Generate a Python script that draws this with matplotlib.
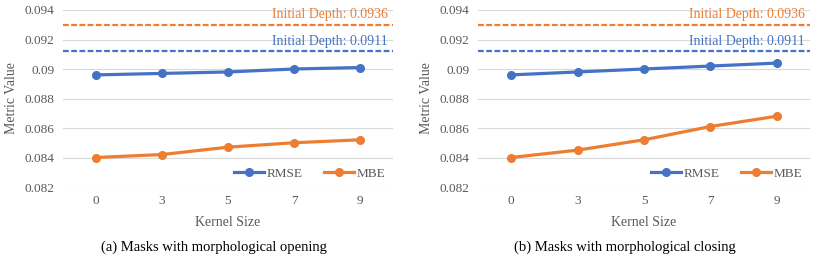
import matplotlib
matplotlib.use("Agg")
from matplotlib import pyplot as plt
from matplotlib.ticker import FuncFormatter

kernel_sizes = ["0", "3", "5", "7", "9"]

rmse_opening = [0.0896, 0.0897, 0.0898, 0.0900, 0.0901]
mbe_opening = [0.0840, 0.0842, 0.0847, 0.0850, 0.0852]

rmse_closing = [0.0896, 0.0898, 0.0900, 0.0902, 0.0904]
mbe_closing = [0.0840, 0.0845, 0.0852, 0.0861, 0.0868]

# dashed reference lines (drawn position) and their labels
init_rmse_line = 0.0912
init_mbe_line = 0.0930
init_rmse_label = "Initial Depth: 0.0911"
init_mbe_label = "Initial Depth: 0.0936"

captions = ["(a) Masks with morphological opening", "(b) Masks with morphological closing"]

BLUE = "#4472C4"
ORANGE = "#ED7D31"
GRAY = "#595959"

plt.rcParams["font.family"] = ["Liberation Serif", "DejaVu Serif"]

fig = plt.figure(figsize=(8.31, 2.57), dpi=100)


def draw_panel(rect, rmse, mbe):
    ax = fig.add_axes(rect)
    x = range(len(kernel_sizes))
    ax.axhline(init_mbe_line, color=ORANGE, ls=(0, (2.6, 1.1)), lw=1.6, zorder=2)
    ax.axhline(init_rmse_line, color=BLUE, ls=(0, (2.6, 1.1)), lw=1.6, zorder=2)
    ax.text(0.985, init_mbe_line + 0.00025, init_mbe_label, transform=ax.get_yaxis_transform(),
            ha="right", va="bottom", color=ORANGE, fontsize=10)
    ax.text(0.985, init_rmse_line + 0.00025, init_rmse_label, transform=ax.get_yaxis_transform(),
            ha="right", va="bottom", color=BLUE, fontsize=10)
    ax.plot(x, rmse, color=BLUE, lw=2.3, marker="o", ms=5.5, label="RMSE", zorder=3)
    ax.plot(x, mbe, color=ORANGE, lw=2.3, marker="o", ms=5.5, label="MBE", zorder=3)
    ax.set_xlim(-0.5, len(kernel_sizes) - 0.5)
    ax.set_ylim(0.082, 0.094)
    ax.set_yticks([0.082, 0.084, 0.086, 0.088, 0.090, 0.092, 0.094])
    ax.yaxis.set_major_formatter(FuncFormatter(lambda v, p: "%g" % round(v, 3)))
    ax.set_xticks(list(x))
    ax.set_xticklabels(kernel_sizes)
    ax.grid(axis="y", color="#D9D9D9", lw=0.8, zorder=0)
    for s in ax.spines.values():
        s.set_visible(False)
    ax.tick_params(length=0, labelsize=9.5, colors=GRAY, pad=6)
    ax.set_xlabel("Kernel Size", fontsize=10, color=GRAY, labelpad=6)
    ax.set_ylabel("Metric Value", fontsize=10, color=GRAY, labelpad=5)
    ax.legend(loc="lower right", ncol=2, frameon=False, fontsize=9.5, labelcolor=GRAY,
              handlelength=2.3, handletextpad=0.2, columnspacing=1.6,
              bbox_to_anchor=(1.0, 0.0), borderaxespad=0.15)
    return ax


draw_panel([63 / 831, 1 - 187 / 257, 330 / 831, 177 / 257], rmse_opening, mbe_opening)
draw_panel([478 / 831, 1 - 187 / 257, 332 / 831, 177 / 257], rmse_closing, mbe_closing)

fig.text(214 / 831, 1 - 247 / 257, captions[0], ha="center", va="center", fontsize=10.5, color="black")
fig.text(625 / 831, 1 - 247 / 257, captions[1], ha="center", va="center", fontsize=10.5, color="black")

fig.savefig("out.png", dpi=100)
